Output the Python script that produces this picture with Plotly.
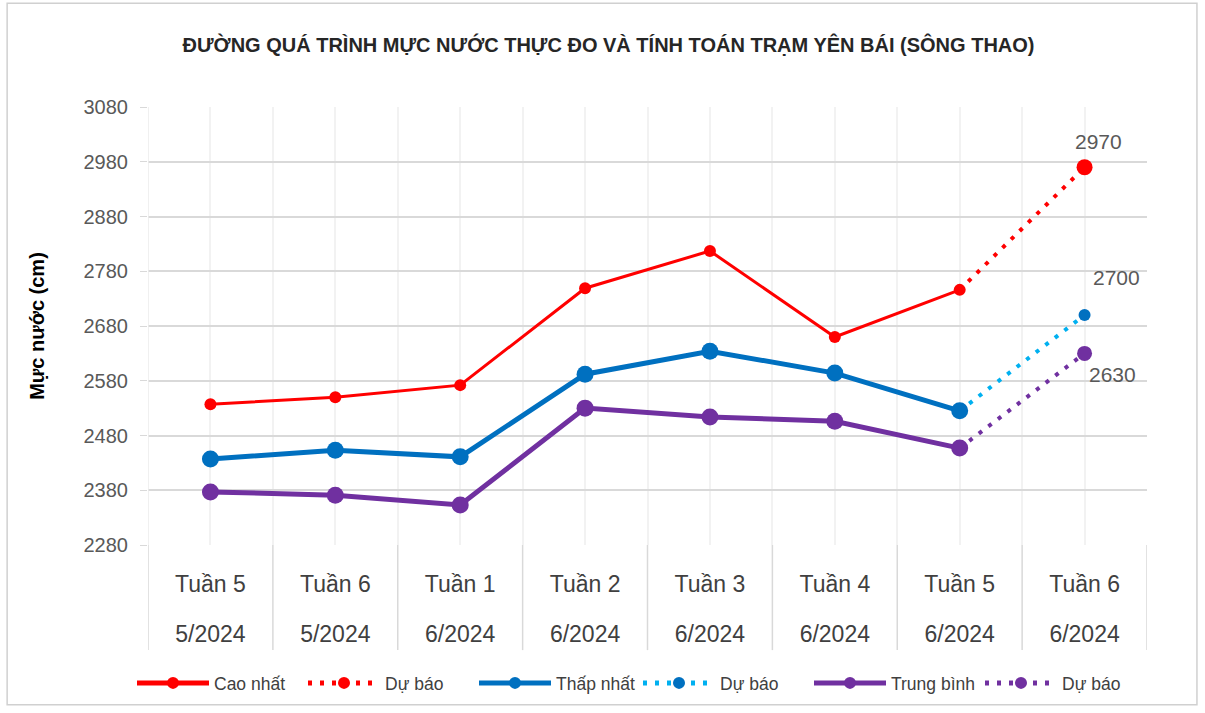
import plotly.graph_objects as go

weeks = ["Tuần 5", "Tuần 6", "Tuần 1", "Tuần 2", "Tuần 3", "Tuần 4", "Tuần 5", "Tuần 6"]
months = ["5/2024", "5/2024", "6/2024", "6/2024", "6/2024", "6/2024", "6/2024", "6/2024"]

cao_nhat = [2537, 2550, 2572, 2749, 2817, 2660, 2746]
thap_nhat = [2437, 2453, 2441, 2592, 2634, 2594, 2525]
trung_binh = [2377, 2371, 2353, 2530, 2514, 2506, 2457]

du_bao_cao = 2970
du_bao_thap = 2700
du_bao_tb = 2630

RED = "#FF0000"
BLUE = "#0070C0"
LBLUE = "#00B0F0"
PURPLE = "#7030A0"
FONT = "Liberation Sans"
DOTS = "4px,8px"

n_obs = len(cao_nhat)
x_obs = list(range(n_obs))
x_fc = [n_obs - 1, n_obs]

fig = go.Figure()

# forecast (dotted) traces first so solid lines are drawn on top
fig.add_trace(go.Scatter(x=x_fc, y=[cao_nhat[-1], du_bao_cao], name="Dự báo", mode="lines+markers",
                         legend="legend", legendrank=2, line=dict(color=RED, width=4, dash=DOTS),
                         marker=dict(size=[0, 16], color=RED, opacity=1, line=dict(width=0))))
fig.add_trace(go.Scatter(x=x_fc, y=[thap_nhat[-1], du_bao_thap], name="Dự báo", mode="lines+markers",
                         legend="legend2", legendrank=4, line=dict(color=LBLUE, width=4, dash=DOTS),
                         marker=dict(size=[0, 12], color=BLUE, opacity=1, line=dict(width=0))))
fig.add_trace(go.Scatter(x=x_fc, y=[trung_binh[-1], du_bao_tb], name="Dự báo", mode="lines+markers",
                         legend="legend2", legendrank=6, line=dict(color=PURPLE, width=4, dash=DOTS),
                         marker=dict(size=[0, 15], color=PURPLE, opacity=1, line=dict(width=0))))
fig.add_trace(go.Scatter(x=x_obs, y=cao_nhat, name="Cao nhất", mode="lines+markers",
                         legend="legend", legendrank=1,
                         line=dict(color=RED, width=3), marker=dict(size=12, color=RED)))
fig.add_trace(go.Scatter(x=x_obs, y=thap_nhat, name="Thấp nhất", mode="lines+markers",
                         legend="legend", legendrank=3,
                         line=dict(color=BLUE, width=5), marker=dict(size=17, color=BLUE)))
fig.add_trace(go.Scatter(x=x_obs, y=trung_binh, name="Trung bình", mode="lines+markers",
                         legend="legend2", legendrank=5,
                         line=dict(color=PURPLE, width=5), marker=dict(size=17, color=PURPLE)))

for val, xs, ys in [(du_bao_cao, 14, 26), (du_bao_thap, 32, 38), (du_bao_tb, 28, -21)]:
    fig.add_annotation(x=n_obs, y=val, text=str(val), showarrow=False, xshift=xs, yshift=ys,
                       font=dict(family=FONT, size=21, color="#595959"))

tickvals = list(range(len(weeks)))
xrange = [-0.5, len(weeks) - 0.5]

fig.update_xaxes(range=xrange, tickmode="array", tickvals=tickvals,
                 ticktext=weeks, showgrid=True, gridcolor="#F2F2F2", gridwidth=1.5,
                 zeroline=False, showline=False, ticks="", ticklabelstandoff=23,
                 tickfont=dict(family=FONT, size=23, color="#404040"),
                 minor=dict(tick0=0.5, dtick=1, showgrid=True, gridcolor="#F2F2F2", gridwidth=1.5))
fig.update_layout(xaxis2=dict(range=xrange, overlaying="x", anchor="y", side="bottom",
                              tickmode="array", tickvals=tickvals, ticktext=months,
                              showgrid=False, zeroline=False, showline=False, ticks="",
                              ticklabelstandoff=73,
                              tickfont=dict(family=FONT, size=23, color="#404040")))
# invisible anchor trace for the second category row
fig.add_trace(go.Scatter(x=tickvals, y=[None] * len(tickvals), xaxis="x2", showlegend=False,
                         hoverinfo="skip", mode="lines"))

fig.update_yaxes(range=[2280, 3080], tick0=2280, dtick=100, showgrid=True, gridcolor="#D9D9D9",
                 gridwidth=1.5, zeroline=False, showline=False, ticks="outside", ticklen=7,
                 tickcolor="#D9D9D9", ticklabelstandoff=8,
                 tickfont=dict(family=FONT, size=20, color="#595959"),
                 title=dict(text="<b>Mực nước (cm)</b>", font=dict(family=FONT, size=20, color="#000000"),
                            standoff=33))

shapes = []
for b in range(len(weeks) + 1):
    shapes.append(dict(type="line", xref="x", yref="paper", x0=b - 0.5, x1=b - 0.5, y0=-0.24, y1=0,
                       line=dict(color="#D9D9D9", width=1.5)))
shapes.append(dict(type="line", xref="x", yref="paper", x0=-0.5, x1=-0.5, y0=0, y1=1,
                   line=dict(color="#EBEBEB", width=1.5)))
shapes.append(dict(type="rect", xref="paper", yref="paper", x0=-0.141, x1=1.050, y0=-0.365, y1=1.237,
                   line=dict(color="#D0D0D0", width=1.5)))

legend_common = dict(orientation="h", xref="container", yref="container", xanchor="left",
                     y=1 - 683 / 713, yanchor="middle",
                     font=dict(family=FONT, size=17.5, color="#404040"),
                     itemwidth=72, itemsizing="constant", traceorder="normal",
                     entrywidth=84, entrywidthmode="pixels", bgcolor="rgba(0,0,0,0)")

fig.update_layout(
    width=1205, height=713,
    margin=dict(l=148, r=58, t=107, b=168),
    paper_bgcolor="white", plot_bgcolor="white",
    title=dict(text="<b>ĐƯỜNG QUÁ TRÌNH MỰC NƯỚC THỰC ĐO VÀ TÍNH TOÁN TRẠM YÊN BÁI (SÔNG THAO)</b>",
               x=0.505, xanchor="center", y=1 - 45 / 713, yanchor="middle",
               font=dict(family=FONT, size=20, color="#262626")),
    showlegend=True,
    legend=dict(x=132 / 1205, **legend_common),
    legend2=dict(x=638 / 1205, **legend_common),
    shapes=shapes,
)

fig.write_html("out.html", config={"displayModeBar": False},
               post_script="document.body.style.margin='0';")
